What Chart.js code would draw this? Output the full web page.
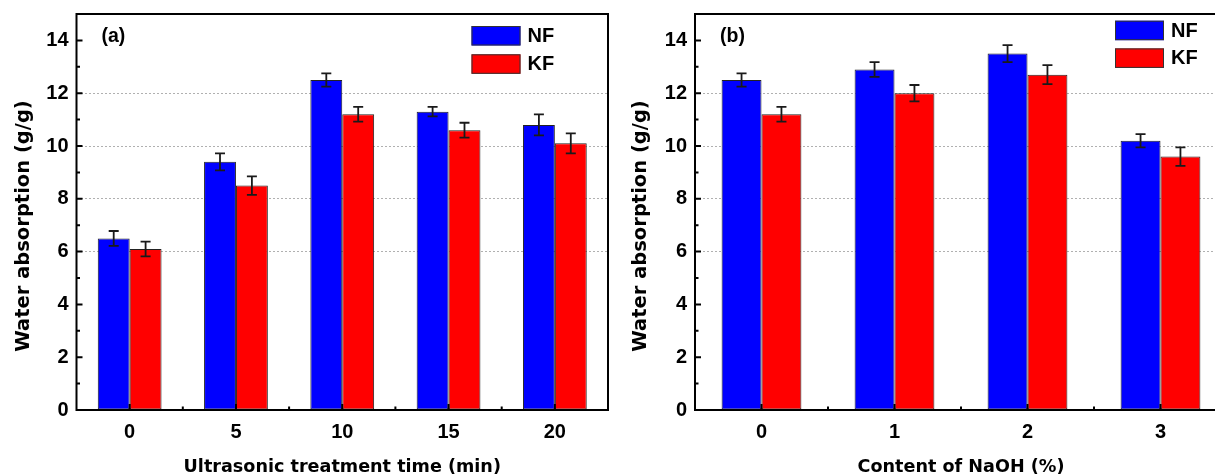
<!DOCTYPE html>
<html lang="en">
<head>
<meta charset="UTF-8">
<title>Water absorption</title>
<script src="https://cdn.jsdelivr.net/npm/chart.js@4.4.1/dist/chart.umd.min.js"></script>
<style>
  html, body { margin: 0; padding: 0; background: #fff; }
  body { width: 1215px; height: 476px; overflow: hidden; position: relative; }
  canvas { position: absolute; top: 0; }
  #chartA { left: 0; }
  #chartB { left: 612px; }
</style>
</head>
<body>
<canvas id="chartA" width="612" height="476"></canvas>
<canvas id="chartB" width="620" height="476"></canvas>

<script>
// (a) ultrasonic treatment time
var timeLabels = ['0', '5', '10', '15', '20'];
var nfTime = [6.5, 9.4, 12.5, 11.3, 10.8];
var nfTimeErr = [0.28, 0.32, 0.25, 0.18, 0.4];
var kfTime = [6.1, 8.5, 11.2, 10.6, 10.1];
var kfTimeErr = [0.28, 0.35, 0.28, 0.28, 0.38];

// (b) NaOH content
var naohLabels = ['0', '1', '2', '3'];
var nfNaoh = [12.5, 12.9, 13.5, 10.2];
var nfNaohErr = [0.25, 0.28, 0.32, 0.25];
var kfNaoh = [11.2, 12.0, 12.7, 9.6];
var kfNaohErr = [0.28, 0.31, 0.36, 0.35];

var yTitle = 'Water absorption (g/g)';
var FONT = "'Liberation Sans', Arial, sans-serif";
var TITLE_FONT = "'DejaVu Sans', 'Liberation Sans', sans-serif";

Chart.defaults.font.family = FONT;
Chart.defaults.font.weight = 'bold';
Chart.defaults.color = '#000';

// error bars, inward ticks, frame, legend, y title and panel tag
var extras = {
  id: 'extras',
  afterDatasetsDraw: function(chart, args, opts) {
    var ctx = chart.ctx, a = chart.chartArea;
    var x = chart.scales.x, y = chart.scales.y;
    ctx.save();

    // error bars
    ctx.strokeStyle = '#1a1a1a';
    ctx.lineWidth = 1.8;
    chart.data.datasets.forEach(function(ds, i) {
      chart.getDatasetMeta(i).data.forEach(function(bar, j) {
        var v = ds.data[j], e = ds.errors[j];
        var t = y.getPixelForValue(v + e), b = y.getPixelForValue(v - e);
        ctx.beginPath();
        ctx.moveTo(bar.x, t); ctx.lineTo(bar.x, b);
        ctx.moveTo(bar.x - 5, t); ctx.lineTo(bar.x + 5, t);
        ctx.moveTo(bar.x - 5, b); ctx.lineTo(bar.x + 5, b);
        ctx.stroke();
      });
    });

    // inward ticks
    ctx.strokeStyle = '#000';
    ctx.lineWidth = 2;
    ctx.beginPath();
    for (var v = y.min; v <= 14; v++) {
      var py = y.getPixelForValue(v);
      ctx.moveTo(a.left, py);
      ctx.lineTo(a.left + (v % 2 === 0 ? 6 : 3.5), py);
    }
    var n = chart.data.labels.length;
    for (var k = 0; k < n; k++) {
      var px = x.getPixelForValue(k);
      ctx.moveTo(px, a.bottom); ctx.lineTo(px, a.bottom - 6);
      if (k < n - 1) {
        var pm = (px + x.getPixelForValue(k + 1)) / 2;
        ctx.moveTo(pm, a.bottom); ctx.lineTo(pm, a.bottom - 3.5);
      }
    }
    ctx.stroke();

    // frame
    ctx.lineWidth = 2;
    ctx.strokeRect(a.left, a.top, a.right - a.left, a.bottom - a.top);

    // legend
    ctx.font = 'bold 20px ' + FONT;
    ctx.textBaseline = 'middle';
    ctx.textAlign = 'left';
    chart.data.datasets.forEach(function(ds, i) {
      var bx = opts.legendX, by = opts.legendY + i * opts.legendStep;
      ctx.fillStyle = ds.backgroundColor;
      ctx.fillRect(bx, by, 49, 19.5);
      ctx.lineWidth = 1;
      ctx.strokeStyle = '#333';
      ctx.strokeRect(bx + 0.5, by + 0.5, 48, 18.5);
      ctx.fillStyle = '#000';
      ctx.fillText(ds.label, bx + 56, by + 10.5);
    });

    // panel tag
    ctx.font = 'bold 19.5px ' + FONT;
    ctx.fillText(opts.tag, opts.tagX, 37);

    // y axis title
    ctx.save();
    ctx.translate(opts.yTitleX, 226);
    ctx.rotate(-Math.PI / 2);
    ctx.textAlign = 'center';
    ctx.font = 'bold 19.5px ' + TITLE_FONT;
    ctx.fillText(yTitle, 0, 0);
    ctx.restore();

    ctx.restore();
  }
};

function makeChart(id, labels, nf, nfErr, kf, kfErr, xTitle, cfg) {
  return new Chart(document.getElementById(id), {
    type: 'bar',
    data: {
      labels: labels,
      datasets: [
        { label: 'NF', data: nf, errors: nfErr, backgroundColor: '#0000ff',
          borderColor: '#222', borderWidth: 1, borderSkipped: false },
        { label: 'KF', data: kf, errors: kfErr, backgroundColor: '#ff0000',
          borderColor: '#222', borderWidth: 1, borderSkipped: false }
      ]
    },
    options: {
      responsive: false,
      animation: false,
      devicePixelRatio: 1,
      categoryPercentage: 0.6,
      barPercentage: 1.0,
      layout: { padding: { left: 0, right: cfg.padRight, top: 14, bottom: 0 } },
      plugins: {
        legend: { display: false },
        tooltip: { enabled: false },
        extras: cfg.extras
      },
      scales: {
        x: {
          offset: true,
          grid: { display: false, drawTicks: false },
          border: { display: false },
          ticks: { font: { size: 20 }, padding: 10.5 },
          title: { display: true, text: xTitle,
                   font: { family: TITLE_FONT, size: 17.6, lineHeight: 1 },
                   padding: { top: 0, bottom: 0 } },
          afterFit: function(s) { s.height = 66; s.paddingLeft = 0; s.paddingRight = 0; }
        },
        y: {
          min: 0, max: 15,
          ticks: { stepSize: 2, includeBounds: false, font: { size: 20 }, padding: 8 },
          grid: {
            drawTicks: false,
            lineWidth: 1,
            color: function(c) {
              var v = c.tick && c.tick.value;
              return (v >= 6 && v <= 12) ? '#b0b0b0' : 'rgba(0,0,0,0)';
            }
          },
          border: { display: false, dash: [2, 2] },
          afterFit: function(s) { s.width = cfg.yWidth; s.paddingTop = 0; s.paddingBottom = 0; }
        }
      }
    },
    plugins: [extras]
  });
}

makeChart('chartA', timeLabels, nfTime, nfTimeErr, kfTime, kfTimeErr,
  'Ultrasonic treatment time (min)',
  { padRight: 4, yWidth: 76.5,
    extras: { legendX: 471.5, legendY: 26, legendStep: 28.3, tag: '(a)', tagX: 101.5, yTitleX: 24 } });

makeChart('chartB', naohLabels, nfNaoh, nfNaohErr, kfNaoh, kfNaohErr,
  'Content of NaOH (%)',
  { padRight: 5, yWidth: 83,
    extras: { legendX: 503, legendY: 20.7, legendStep: 27.7, tag: '(b)', tagX: 108, yTitleX: 29 } });
</script>
</body>
</html>
